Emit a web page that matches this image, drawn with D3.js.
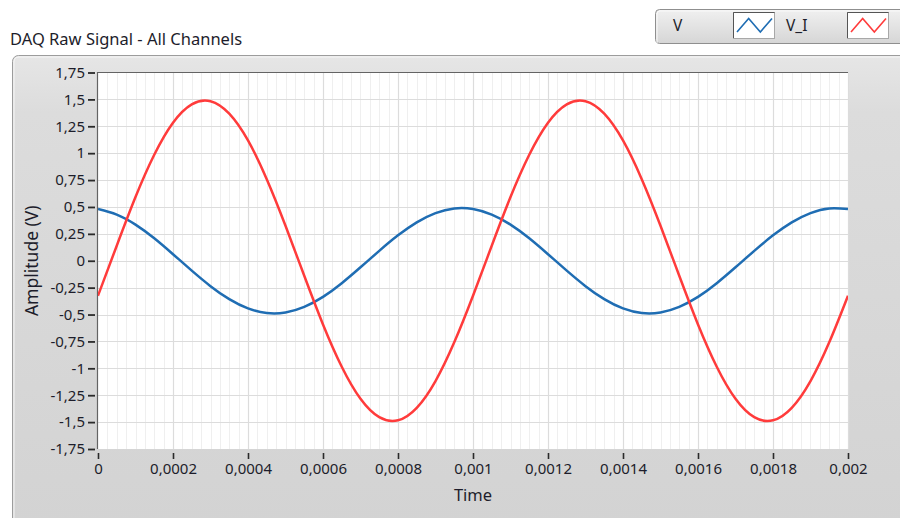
<!DOCTYPE html>
<html>
<head>
<meta charset="utf-8">
<script src="https://cdn.jsdelivr.net/npm/d3@7"></script>
<style>
  html, body { margin: 0; padding: 0; background: #ffffff; }
  svg { display: block; }
  text { font-family: "Noto Sans", "Open Sans", sans-serif; fill: #1d1d2b; }
</style>
</head>
<body>
<svg id="chart" width="900" height="518"></svg>
<script>
// Sample times in microseconds (0 .. 2 ms)
const timesUs = [0, 50, 100, 150, 200, 250, 300, 350, 400, 450,
  500, 550, 600, 650, 700, 750, 800, 850, 900, 950,
  1000, 1050, 1100, 1150, 1200, 1250, 1300, 1350, 1400, 1450,
  1500, 1550, 1600, 1650, 1700, 1750, 1800, 1850, 1900, 1950, 2000];

// Channel "V" (volts)
const seriesV = [0.481, 0.429, 0.336, 0.209, 0.061, -0.092, -0.236, -0.357, -0.443, -0.486,
  -0.481, -0.429, -0.336, -0.209, -0.061, 0.092, 0.236, 0.357, 0.443, 0.486,
  0.481, 0.429, 0.336, 0.209, 0.061, -0.092, -0.236, -0.357, -0.443, -0.486,
  -0.481, -0.429, -0.336, -0.209, -0.061, 0.092, 0.236, 0.357, 0.443, 0.486, 0.481];

// Channel "V_I" (volts)
const seriesVI = [-0.325, 0.140, 0.592, 0.985, 1.283, 1.454, 1.483, 1.367, 1.118, 0.758,
  0.325, -0.140, -0.592, -0.985, -1.283, -1.454, -1.483, -1.367, -1.118, -0.758,
  -0.325, 0.140, 0.592, 0.985, 1.283, 1.454, 1.483, 1.367, 1.118, 0.758,
  0.325, -0.140, -0.592, -0.985, -1.283, -1.454, -1.483, -1.367, -1.118, -0.758, -0.325];

const seriesNames = ["V", "V_I"];
const seriesColors = ["#1f6db3", "#ff3b3b"];

// Axis ticks and their labels
const xTickValues = [0, 200, 400, 600, 800, 1000, 1200, 1400, 1600, 1800, 2000];
const xTickLabels = ["0", "0,0002", "0,0004", "0,0006", "0,0008", "0,001", "0,0012", "0,0014", "0,0016", "0,0018", "0,002"];
const yTickValues = [1.75, 1.5, 1.25, 1, 0.75, 0.5, 0.25, 0, -0.25, -0.5, -0.75, -1, -1.25, -1.5, -1.75];
const yTickLabels = ["1,75", "1,5", "1,25", "1", "0,75", "0,5", "0,25", "0", "-0,25", "-0,5", "-0,75", "-1", "-1,25", "-1,5", "-1,75"];
const xMinorStepUs = 25;

const svg = d3.select("#chart");
const defs = svg.append("defs");

const plot = { left: 98, right: 848, top: 72.5, bottom: 449 };

const x = d3.scaleLinear().domain([0, 2000]).range([plot.left, plot.right]);
const y = d3.scaleLinear().domain([-1.75, 1.75]).range([plot.bottom, plot.top]);

// ---- gradients for the panel and the legend box
const panelGrad = defs.append("linearGradient").attr("id", "panelGrad")
  .attr("x1", 0).attr("y1", 0).attr("x2", 0).attr("y2", 1);
panelGrad.append("stop").attr("offset", "0%").attr("stop-color", "#e6e6e6");
panelGrad.append("stop").attr("offset", "12%").attr("stop-color", "#dcdcdc");
panelGrad.append("stop").attr("offset", "100%").attr("stop-color", "#d3d3d3");

const legendGrad = defs.append("linearGradient").attr("id", "legendGrad")
  .attr("x1", 0).attr("y1", 0).attr("x2", 0).attr("y2", 1);
legendGrad.append("stop").attr("offset", "0%").attr("stop-color", "#f0f0f0");
legendGrad.append("stop").attr("offset", "100%").attr("stop-color", "#d6d6d6");

// ---- title
svg.append("text")
  .attr("x", 10).attr("y", 45)
  .style("font-size", "16.5px")
  .text("DAQ Raw Signal - All Channels");

// ---- graph panel
svg.append("rect")
  .attr("x", 12.5).attr("y", 55.5).attr("width", 900).attr("height", 470)
  .attr("rx", 6)
  .attr("fill", "url(#panelGrad)")
  .attr("stroke", "#9c9c9c");
svg.append("path")
  .attr("d", "M14,530 L14,62 Q14,57 19,57 L900,57")
  .attr("fill", "none").attr("stroke", "#f6f6f6").attr("stroke-width", 1);

// ---- legend box
svg.append("rect")
  .attr("x", 655.5).attr("y", 9.5).attr("width", 260).attr("height", 34)
  .attr("rx", 4)
  .attr("fill", "url(#legendGrad)")
  .attr("stroke", "#8f8f8f");
svg.append("path")
  .attr("d", "M657,43 L657,14 Q657,11 660,11 L900,11")
  .attr("fill", "none").attr("stroke", "#fafafa");

const legendItems = [
  { name: seriesNames[0], color: seriesColors[0], textX: 673, boxX: 733 },
  { name: seriesNames[1], color: seriesColors[1], textX: 786, boxX: 847 }
];
legendItems.forEach(item => {
  const g = svg.append("g");
  g.append("text")
    .attr("x", item.textX).attr("y", 26)
    .attr("dy", "0.35em")
    .style("font-size", "15.5px")
    .text(item.name);
  g.append("rect")
    .attr("x", item.boxX + 0.5).attr("y", 12.5).attr("width", 41).attr("height", 26)
    .attr("fill", "#ffffff").attr("stroke", "#a8a8a8");
  g.append("path")
    .attr("d", `M${item.boxX + 0.5},38 L${item.boxX + 0.5},12.5 L${item.boxX + 41.5},12.5`)
    .attr("fill", "none").attr("stroke", "#555");
  const gx = d3.scaleLinear().domain([0, 3]).range([item.boxX + 4, item.boxX + 39]);
  const gy = d3.scaleLinear().domain([0, 1]).range([32, 18.5]);
  g.append("path")
    .datum([[0, 0], [1, 1], [2, 0], [3, 1]])
    .attr("d", d3.line().x(d => gx(d[0])).y(d => gy(d[1])))
    .attr("fill", "none").attr("stroke", item.color).attr("stroke-width", 1.6);
});

// ---- plot area
svg.append("rect")
  .attr("x", plot.left - 0.5).attr("y", plot.top)
  .attr("width", plot.right - plot.left + 0.5).attr("height", plot.bottom - plot.top)
  .attr("fill", "#ffffff");

// minor vertical grid
const minorX = d3.range(0, 2000 + 1, xMinorStepUs).filter(v => !xTickValues.includes(v));
svg.append("g").selectAll("line").data(minorX).join("line")
  .attr("x1", d => Math.round(x(d)) + 0.5).attr("x2", d => Math.round(x(d)) + 0.5)
  .attr("y1", plot.top).attr("y2", plot.bottom)
  .attr("stroke", "#efefef");

// major grid
svg.append("g").selectAll("line").data(xTickValues.slice(1)).join("line")
  .attr("x1", d => Math.round(x(d)) + 0.5).attr("x2", d => Math.round(x(d)) + 0.5)
  .attr("y1", plot.top).attr("y2", plot.bottom)
  .attr("stroke", "#dcdcdc").attr("stroke-width", 1.2);
svg.append("g").selectAll("line").data(yTickValues.slice(1, -1)).join("line")
  .attr("x1", plot.left).attr("x2", plot.right)
  .attr("y1", d => Math.round(y(d)) + 0.5).attr("y2", d => Math.round(y(d)) + 0.5)
  .attr("stroke", "#dcdcdc").attr("stroke-width", 1.2);

// sunken frame: dark top and left edges
svg.append("path")
  .attr("d", `M${plot.left - 0.5},${plot.bottom} L${plot.left - 0.5},${plot.top} L${plot.right},${plot.top}`)
  .attr("fill", "none").attr("stroke", "#646464").attr("stroke-width", 1.2);

// ---- axes
const yAxis = d3.axisLeft(y)
  .tickValues(yTickValues)
  .tickFormat((d, i) => yTickLabels[i])
  .tickSize(7).tickPadding(3);
const yAxisG = svg.append("g").attr("transform", `translate(${plot.left - 3},0)`).call(yAxis);
yAxisG.select(".domain").remove();
yAxisG.selectAll(".tick line").attr("stroke", "#2a2a2a").attr("stroke-width", 1.8);
yAxisG.selectAll(".tick text").style("font-size", "15px").attr("fill", "#1d1d2b")
  .style("font-family", "'Noto Sans', sans-serif");

const xAxis = d3.axisBottom(x)
  .tickValues(xTickValues)
  .tickFormat((d, i) => xTickLabels[i])
  .tickSize(6).tickPadding(4);
const xAxisG = svg.append("g").attr("transform", `translate(0,${plot.bottom + 4})`).call(xAxis);
xAxisG.select(".domain").remove();
xAxisG.selectAll(".tick line").attr("stroke", "#2a2a2a").attr("stroke-width", 1.6);
xAxisG.selectAll(".tick text").style("font-size", "15px").attr("fill", "#1d1d2b")
  .style("font-family", "'Noto Sans', sans-serif");

// axis names
svg.append("text")
  .attr("x", (plot.left + plot.right) / 2).attr("y", 501)
  .attr("text-anchor", "middle")
  .style("font-size", "16.5px")
  .text("Time");
svg.append("text")
  .attr("transform", `translate(38, ${(plot.top + plot.bottom) / 2}) rotate(-90)`)
  .attr("text-anchor", "middle")
  .style("font-size", "17.5px")
  .text("Amplitude (V)");

// ---- signal traces
defs.append("clipPath").attr("id", "plotClip")
  .append("rect")
  .attr("x", plot.left).attr("y", plot.top)
  .attr("width", plot.right - plot.left).attr("height", plot.bottom - plot.top);

const line = d3.line()
  .x(d => x(d[0]))
  .y(d => y(d[1]))
  .curve(d3.curveNatural);

const traces = [seriesV, seriesVI];
const traceG = svg.append("g").attr("clip-path", "url(#plotClip)");
traces.forEach((vals, i) => {
  traceG.append("path")
    .datum(timesUs.map((t, j) => [t, vals[j]]))
    .attr("d", line)
    .attr("fill", "none")
    .attr("stroke", seriesColors[i])
    .attr("stroke-width", 2.5)
    .attr("stroke-linejoin", "round");
});
</script>
</body>
</html>
